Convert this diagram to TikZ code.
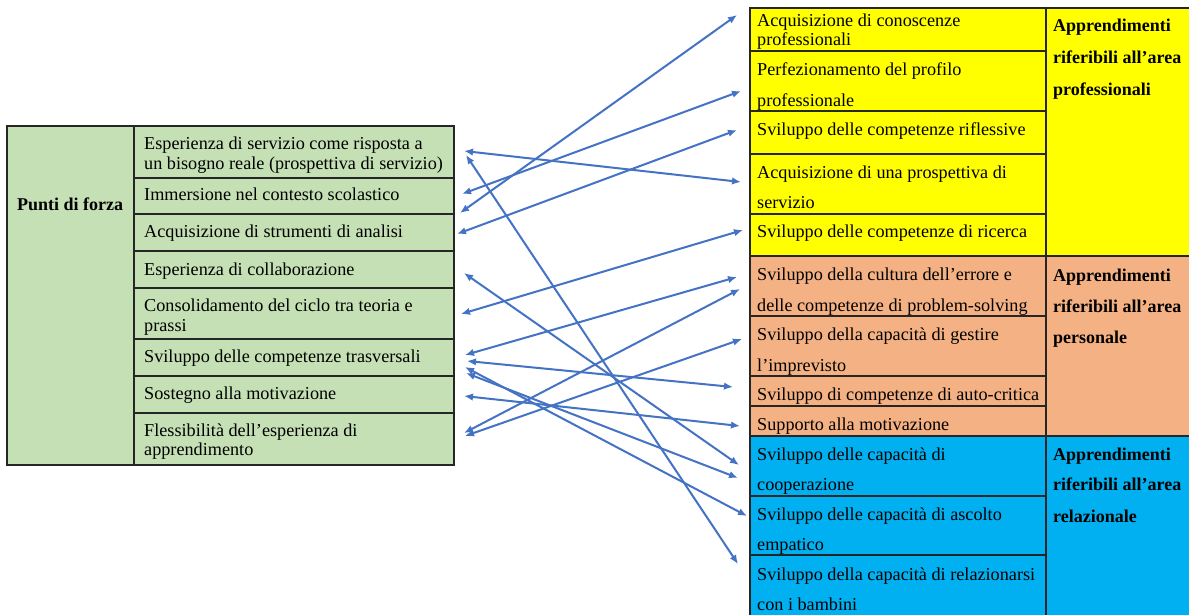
\documentclass[tikz,border=0pt]{standalone}
\usepackage{fontspec}
\setmainfont{Liberation Serif}
\usetikzlibrary{arrows.meta}
\definecolor{lgreen}{HTML}{C5E0B4}
\definecolor{lyellow}{HTML}{FFFF00}
\definecolor{lorange}{HTML}{F4B183}
\definecolor{lblue}{HTML}{00B0F0}
\definecolor{arrowblue}{HTML}{4472C4}
\begin{document}
\begin{tikzpicture}[x=1pt,y=-1pt,
  cell/.style={draw=black!85, line width=1.5pt, anchor=north west, inner sep=0pt, outer sep=0pt},
  txt/.style={anchor=base west, inner sep=0pt, font=\fontsize{18.2}{20}\selectfont},
  btxt/.style={anchor=base west, inner sep=0pt, font=\fontsize{18}{20}\selectfont\bfseries},
  link/.style={draw=arrowblue, line width=2pt, {Latex[length=9pt,width=7.5pt]}-{Latex[length=9pt,width=7.5pt]}}]
\useasboundingbox (0,0) rectangle (1189,614);
\fill[white] (0,0) rectangle (1189,614);
\clip (0,0) rectangle (1189,614);

% ---------- left table ----------
\node[cell, fill=lgreen, minimum width=127pt, minimum height=339pt] (pf) at (7,126) {};
\node[cell, fill=lgreen, minimum width=320pt, minimum height=52pt] (l1) at (134,126) {};
\node[cell, fill=lgreen, minimum width=320pt, minimum height=36pt] (l2) at (134,178) {};
\node[cell, fill=lgreen, minimum width=320pt, minimum height=37pt] (l3) at (134,214) {};
\node[cell, fill=lgreen, minimum width=320pt, minimum height=37pt] (l4) at (134,251) {};
\node[cell, fill=lgreen, minimum width=320pt, minimum height=51pt] (l5) at (134,288) {};
\node[cell, fill=lgreen, minimum width=320pt, minimum height=37pt] (l6) at (134,339) {};
\node[cell, fill=lgreen, minimum width=320pt, minimum height=37pt] (l7) at (134,376) {};
\node[cell, fill=lgreen, minimum width=320pt, minimum height=52pt] (l8) at (134,413) {};

\node[btxt] (tpf) at (17,210.7) {Punti di forza};
\node[txt] (t1a) at (144,149.3) {Esperienza di servizio come risposta a};
\node[txt] (t1b) at (144,169.3) {un bisogno reale (prospettiva di servizio)};
\node[txt] (t2) at (144,200.7) {Immersione nel contesto scolastico};
\node[txt] (t3) at (144,237.7) {Acquisizione di strumenti di analisi};
\node[txt] (t4) at (144,275) {Esperienza di collaborazione};
\node[txt] (t5a) at (144,311.7) {Consolidamento del ciclo tra teoria e};
\node[txt] (t5b) at (144,331) {prassi};
\node[txt] (t6) at (144,362.7) {Sviluppo delle competenze trasversali};
\node[txt] (t7) at (144,399.3) {Sostegno alla motivazione};
\node[txt] (t8a) at (144,436) {Flessibilità dell’esperienza di};
\node[txt] (t8b) at (144,455) {apprendimento};

% ---------- right table ----------
\node[cell, fill=lyellow, minimum width=296pt, minimum height=43pt] (r1) at (750,8) {};
\node[cell, fill=lyellow, minimum width=296pt, minimum height=60pt] (r2) at (750,51) {};
\node[cell, fill=lyellow, minimum width=296pt, minimum height=43pt] (r3) at (750,111) {};
\node[cell, fill=lyellow, minimum width=296pt, minimum height=60pt] (r4) at (750,154) {};
\node[cell, fill=lyellow, minimum width=296pt, minimum height=42pt] (r5) at (750,214) {};
\node[cell, fill=lorange, minimum width=296pt, minimum height=60pt] (r6) at (750,256) {};
\node[cell, fill=lorange, minimum width=296pt, minimum height=60pt] (r7) at (750,316) {};
\node[cell, fill=lorange, minimum width=296pt, minimum height=30pt] (r8) at (750,376) {};
\node[cell, fill=lorange, minimum width=296pt, minimum height=30pt] (r9) at (750,406) {};
\node[cell, fill=lblue, minimum width=296pt, minimum height=60pt] (r10) at (750,436) {};
\node[cell, fill=lblue, minimum width=296pt, minimum height=59pt] (r11) at (750,496) {};
\node[cell, fill=lblue, minimum width=296pt, minimum height=70pt] (r12) at (750,555) {};
\node[cell, fill=lyellow, minimum width=160pt, minimum height=248pt] (ap) at (1046,8) {};
\node[cell, fill=lorange, minimum width=160pt, minimum height=180pt] (aq) at (1046,256) {};
\node[cell, fill=lblue, minimum width=160pt, minimum height=190pt] (ar) at (1046,436) {};

\node[txt] (s1a) at (757,26.7) {Acquisizione di conoscenze};
\node[txt] (s1b) at (757,45.7) {professionali};
\node[txt] (s2a) at (757,75) {Perfezionamento del profilo};
\node[txt] (s2b) at (757,106) {professionale};
\node[txt] (s3) at (757,135) {Sviluppo delle competenze riflessive};
\node[txt] (s4a) at (757,178.3) {Acquisizione di una prospettiva di};
\node[txt] (s4b) at (757,208.3) {servizio};
\node[txt] (s5) at (757,237.3) {Sviluppo delle competenze di ricerca};
\node[txt] (s6a) at (757,280.7) {Sviluppo della cultura dell’errore e};
\node[txt] (s6b) at (757,311.7) {delle competenze di problem-solving};
\node[txt] (s7a) at (757,340) {Sviluppo della capacità di gestire};
\node[txt] (s7b) at (757,371.7) {l’imprevisto};
\node[txt] (s8) at (757,400) {Sviluppo di competenze di auto-critica};
\node[txt] (s9) at (757,430) {Supporto alla motivazione};
\node[txt] (s10a) at (757,460) {Sviluppo delle capacità di};
\node[txt] (s10b) at (757,490.7) {cooperazione};
\node[txt] (s11a) at (757,520) {Sviluppo delle capacità di ascolto};
\node[txt] (s11b) at (757,550) {empatico};
\node[txt] (s12a) at (757,580) {Sviluppo della capacità di relazionarsi};
\node[txt] (s12b) at (757,610) {con i bambini};

\node[btxt] (apa) at (1053,31.7) {Apprendimenti};
\node[btxt] (apb) at (1053,63.3) {riferibili all’area};
\node[btxt] (apc) at (1053,95) {professionali};
\node[btxt] (aqa) at (1053,281.7) {Apprendimenti};
\node[btxt] (aqb) at (1053,312.7) {riferibili all’area};
\node[btxt] (aqc) at (1053,343.3) {personale};
\node[btxt] (ara) at (1053,460) {Apprendimenti};
\node[btxt] (arb) at (1053,490.7) {riferibili all’area};
\node[btxt] (arc) at (1053,522.7) {relazionale};

% ---------- connector end points ----------
\coordinate (p1) at (460,213);  \coordinate (q1) at (737,15);
\coordinate (p2) at (462,194);  \coordinate (q2) at (741,91);
\coordinate (p3) at (457,234);  \coordinate (q3) at (737,130);
\coordinate (p4) at (464,151);  \coordinate (q4) at (741,182);
\coordinate (p5) at (466,155);  \coordinate (q5) at (738,564);
\coordinate (p6) at (461,314);  \coordinate (q6) at (743,230);
\coordinate (p7) at (464,273);  \coordinate (q7) at (739,465);
\coordinate (p8) at (465,355);  \coordinate (q8) at (737,277);
\coordinate (p9) at (464,433);  \coordinate (q9) at (740,289);
\coordinate (p10) at (465,436); \coordinate (q10) at (742,339);
\coordinate (p11) at (467,361); \coordinate (q11) at (733,387);
\coordinate (p12) at (464,396); \coordinate (q12) at (740,426);
\coordinate (p13) at (465,367); \coordinate (q13) at (747,516);
\coordinate (p14) at (466,373); \coordinate (q14) at (738,478);

\foreach \i in {1,...,14} {\draw[link] (p\i) -- (q\i);}
\end{tikzpicture}
\end{document}
